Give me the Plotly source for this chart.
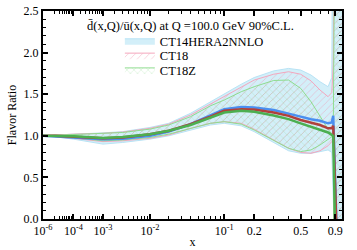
import numpy as np
import plotly.graph_objects as go

# x grid (momentum fraction)
x_vals = [1e-6, 1e-5, 1e-4, 1e-3, 3e-3, 0.01, 0.02, 0.04, 0.07, 0.1, 0.15, 0.2,
          0.3, 0.4, 0.5, 0.6, 0.7, 0.8, 0.85, 0.87, 0.905, 0.95, 0.999]

# central values
ct14_central = [1.00, 0.995, 0.98, 0.96, 0.965, 1.00, 1.05, 1.14, 1.25, 1.32, 1.345, 1.34,
                1.31, 1.27, 1.23, 1.20, 1.18, 1.15, 1.16, 1.24, -0.5, -1.0, -1.0]
ct18_central = [1.00, 1.00, 0.99, 0.97, 0.98, 1.02, 1.06, 1.14, 1.23, 1.30, 1.32, 1.315,
                1.28, 1.24, 1.19, 1.16, 1.13, 1.09, 1.09, 1.12, -0.5, -1.0, -1.0]
ct18z_central = [1.00, 1.00, 0.995, 0.975, 0.985, 1.02, 1.06, 1.13, 1.22, 1.28, 1.30, 1.29,
                 1.245, 1.20, 1.15, 1.11, 1.08, 1.04, 1.01, 1.00, -0.5, -1.0, -1.0]

# 90% C.L. bands
ct14_upper = [1.00, 1.01, 1.02, 1.035, 1.05, 1.10, 1.15, 1.27, 1.41, 1.50, 1.62, 1.70,
              1.78, 1.81, 1.79, 1.73, 1.65, 1.59, 1.70, 5.0, 5.0, 5.0, 5.0]
ct14_lower = [1.00, 0.99, 0.96, 0.90, 0.92, 0.96, 1.00, 1.07, 1.13, 1.15, 1.12, 1.05,
              0.92, 0.82, 0.79, 0.79, 0.81, 0.83, 0.80, -3.0, -3.0, -3.0, -3.0]
ct18_upper = [1.00, 1.01, 1.02, 1.03, 1.045, 1.09, 1.14, 1.25, 1.38, 1.47, 1.59, 1.67,
              1.74, 1.77, 1.74, 1.66, 1.55, 1.47, 1.52, 1.85, 5.0, 5.0, 5.0]
ct18_lower = [1.00, 0.99, 0.97, 0.93, 0.94, 0.97, 1.01, 1.09, 1.15, 1.17, 1.15, 1.08,
              0.95, 0.85, 0.80, 0.79, 0.82, 0.88, 0.93, 0.97, -3.0, -3.0, -3.0]
ct18z_upper = [1.00, 1.005, 1.015, 1.025, 1.04, 1.08, 1.13, 1.23, 1.36, 1.43, 1.53, 1.59,
               1.665, 1.67, 1.57, 1.41, 1.23, 1.08, 1.02, 1.01, 5.0, 5.0, 5.0]
ct18z_lower = [1.00, 0.995, 0.975, 0.94, 0.95, 0.98, 1.02, 1.09, 1.15, 1.17, 1.14, 1.07,
               0.94, 0.85, 0.81, 0.83, 0.89, 0.96, 0.99, 1.00, -3.0, -3.0, -3.0]

# axis ticks
x_tick_vals = [1e-6, 1e-4, 1e-3, 1e-2, 1e-1, 0.2, 0.5, 0.9]
x_tick_text = ["10<sup>-6</sup>", "10<sup>-4</sup>", "10<sup>-3</sup>", "10<sup>-2</sup>",
               "10<sup>-1</sup>", "0.2", "0.5", "0.9"]
x_minor_vals = ([1e-5] + [m * 1e-5 for m in range(2, 10)] + [m * 1e-4 for m in range(2, 10)]
                + [m * 1e-3 for m in range(2, 10)] + [m * 1e-2 for m in range(2, 10)]
                + [0.3, 0.4, 0.6, 0.7, 0.8])
title_text = "d\u0304(x,Q)/\u016b(x,Q) at Q =100.0 GeV 90%C.L."

POW = 0.2  # x-axis scale: x**0.2


def tr(v):
    return np.asarray(v, dtype=float) ** POW


u = tr(x_vals)
FONT = "Liberation Serif"

fig = go.Figure()


def add_band(name, lower, upper, linecolor, fillcolor, pattern, legend):
    fig.add_trace(go.Scatter(x=u, y=lower, mode="lines", line=dict(color=linecolor, width=1),
                             showlegend=False, hoverinfo="skip"))
    kw = {}
    if pattern is not None:
        kw["fillpattern"] = pattern
    fig.add_trace(go.Scatter(x=u, y=upper, mode="lines", line=dict(color=linecolor, width=1),
                             fill="tonexty", fillcolor=fillcolor, name=name, legend=legend, **kw))


add_band("CT14HERA2NNLO", ct14_lower, ct14_upper, "#b8e3f5", "#d3eff9", None, "legend")
add_band("CT18", ct18_lower, ct18_upper, "#f4a6bd", "rgba(0,0,0,0)",
         dict(shape="/", fgcolor="#f08aa8", bgcolor="rgba(0,0,0,0)", size=5, solidity=0.15),
         "legend2")
add_band("CT18Z", ct18z_lower, ct18z_upper, "#8fdc8f", "rgba(0,0,0,0)",
         dict(shape="x", fgcolor="#7fd67f", bgcolor="rgba(0,0,0,0)", size=5, solidity=0.15),
         "legend3")

fig.add_trace(go.Scatter(x=u, y=ct14_central, mode="lines", line=dict(color="#4a8ff0", width=2.5),
                         showlegend=False))
fig.add_trace(go.Scatter(x=u, y=ct18_central, mode="lines", line=dict(color="#b0403c", width=2.5),
                         showlegend=False))
fig.add_trace(go.Scatter(x=u, y=ct18z_central, mode="lines", line=dict(color="#4caf50", width=2.5),
                         showlegend=False))

fig.add_annotation(text=title_text, x=0.494, y=0.927, xref="paper", yref="paper",
                   xanchor="center", yanchor="middle",
                   showarrow=False, font=dict(family=FONT, size=12.5, color="black"))

axis_common = dict(showline=True, linecolor="black", linewidth=2, mirror="allticks",
                   ticks="inside", tickcolor="black", tickwidth=1.5, ticklen=5,
                   showgrid=False, zeroline=False, automargin=False,
                   ticklabeloverflow="allow",
                   tickfont=dict(family=FONT, size=12, color="black"))

fig.update_xaxes(range=[tr(1e-6), 1.0], tickmode="array", tickvals=tr(x_tick_vals),
                 ticktext=x_tick_text,
                 minor=dict(tickmode="array", tickvals=tr(x_minor_vals), ticks="inside",
                            ticklen=3, tickcolor="black", tickwidth=1),
                 title=dict(text="x", font=dict(family=FONT, size=12, color="black"), standoff=0),
                 **axis_common)
fig.update_yaxes(range=[0, 2.5], tickmode="linear", tick0=0, dtick=0.5, tickformat=".1f",
                 minor=dict(dtick=0.1, ticks="inside", ticklen=3, tickcolor="black", tickwidth=1),
                 title=dict(text="Flavor Ratio", font=dict(family=FONT, size=12, color="black"),
                            standoff=4),
                 **axis_common)

leg_common = dict(x=0.257, xanchor="left", yanchor="middle", bgcolor="rgba(0,0,0,0)",
                  font=dict(family=FONT, size=12.5, color="black"), itemwidth=30)

fig.update_layout(width=357, height=250, margin=dict(l=43, r=15, t=11, b=31),
                  paper_bgcolor="white", plot_bgcolor="white",
                  legend=dict(y=0.855, **leg_common),
                  legend2=dict(y=0.786, **leg_common),
                  legend3=dict(y=0.715, **leg_common),
                  font=dict(family=FONT, size=12, color="black"))

fig.write_html("out.html", config={"displayModeBar": False},
               post_script="document.body.style.margin='0';")
